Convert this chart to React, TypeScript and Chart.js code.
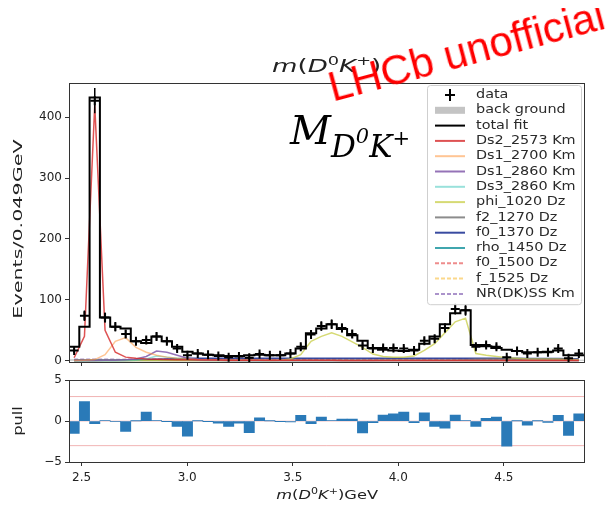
import React, { useEffect, useRef } from "react";
import { Chart, registerables } from "chart.js";

Chart.register(...registerables);
Chart.defaults.font.family = "'DejaVu Sans', sans-serif";

// ---------------- data ----------------
const X_RANGE = [2.44, 4.88];
const BIN_EDGES = [
  2.44, 2.4888, 2.5376, 2.5864, 2.6352, 2.684, 2.7328, 2.7816, 2.8304, 2.8792,
  2.928, 2.9768, 3.0256, 3.0744, 3.1232, 3.172, 3.2208, 3.2696, 3.3184, 3.3672,
  3.416, 3.4648, 3.5136, 3.5624, 3.6112, 3.66, 3.7088, 3.7576, 3.8064, 3.8552,
  3.904, 3.9528, 4.0016, 4.0504, 4.0992, 4.148, 4.1968, 4.2456, 4.2944, 4.3432,
  4.392, 4.4408, 4.4896, 4.5384, 4.5872, 4.636, 4.6848, 4.7336, 4.7824, 4.8312,
  4.88,
];
const X_TICKS = [2.5, 3.0, 3.5, 4.0, 4.5];
const Y_TICKS = [0, 100, 200, 300, 400];
const Y_RANGE = [-2, 456];
const PULL_TICKS = [-5, 0, 5];
const PULL_RANGE = [-5, 5];
const PULL_LIMITS = [3, 0, -3];

const DATA = [
  17, 74, 427, 71, 56, 44, 32, 34, 40, 32,
  20, 9, 12, 10, 8, 6, 7, 5, 11, 9,
  9, 12, 23, 43, 57, 60, 54, 44, 25, 20,
  21, 21, 20, 17, 33, 36, 54, 85, 83, 23,
  26, 23, 6, 16, 12, 14, 14, 20, 4, 12,
];
const TOTAL_FIT = [
  23, 56, 432, 71, 56, 53, 32, 29, 40, 32,
  23, 15, 12, 10, 9, 8, 8, 9, 10, 9,
  9, 12, 20, 45, 53, 60, 52, 42, 33, 21,
  18, 17, 16, 18, 28, 40, 60, 78, 83, 26,
  24, 21, 18, 16, 14, 14, 15, 17, 9, 9,
];
const BACKGROUND = [
  2.5, 2.5, 2.4, 2.4, 2.3, 2.3, 2.2, 2.2, 2.1, 2.1,
  2, 2, 2, 1.9, 1.9, 1.9, 1.8, 1.8, 1.8, 1.8,
  1.7, 1.7, 1.7, 1.7, 1.7, 1.7, 1.7, 1.7, 1.7, 1.7,
  1.6, 1.6, 1.6, 1.6, 1.6, 1.6, 1.6, 1.6, 1.6, 1.6,
  1.5, 1.5, 1.5, 1.5, 1.5, 1.5, 1.5, 1.5, 1.5, 1.5,
];
const DS2_2573 = [
  5, 40, 420, 50, 14, 6, 4, 3, 2.5, 2,
  1.8, 1.5, 1.4, 1.2, 1.1, 1, 1, 0.9, 0.9, 0.8,
  0.8, 0.8, 0.7, 0.7, 0.7, 0.7, 0.6, 0.6, 0.6, 0.6,
  0.6, 0.6, 0.5, 0.5, 0.5, 0.5, 0.5, 0.5, 0.5, 0.5,
  0.5, 0.5, 0.5, 0.5, 0.5, 0.5, 0.5, 0.5, 0.5, 0.5,
];
const DS1_2700 = [
  0.5, 1, 2, 10, 32, 38, 22, 14, 9, 6,
  4, 3, 2, 1.5, 1.2, 1, 0.9, 0.8, 0.7, 0.6,
  0.6, 0.5, 0.5, 0.5, 0.5, 0.4, 0.4, 0.4, 0.4, 0.4,
  0.4, 0.4, 0.3, 0.3, 0.3, 0.3, 0.3, 0.3, 0.3, 0.3,
  0.3, 0.3, 0.3, 0.3, 0.3, 0.3, 0.3, 0.3, 0.3, 0.3,
];
const DS1_2860 = [
  0.3, 0.3, 0.5, 0.7, 1, 1.5, 3, 7, 16, 14,
  9, 4, 2, 1.2, 0.8, 0.6, 0.5, 0.5, 0.4, 0.4,
  0.4, 0.4, 0.3, 0.3, 0.3, 0.3, 0.3, 0.3, 0.3, 0.3,
  0.3, 0.3, 0.3, 0.3, 0.3, 0.3, 0.3, 0.3, 0.3, 0.3,
  0.3, 0.3, 0.3, 0.3, 0.3, 0.3, 0.3, 0.3, 0.3, 0.3,
];
const DS3_2860 = [
  0.2, 0.2, 0.3, 0.4, 0.5, 0.7, 1, 3, 8, 6,
  4, 2, 1, 0.6, 0.4, 0.3, 0.3, 0.3, 0.2, 0.2,
  0.2, 0.2, 0.2, 0.2, 0.2, 0.2, 0.2, 0.2, 0.2, 0.2,
  0.2, 0.2, 0.2, 0.2, 0.2, 0.2, 0.2, 0.2, 0.2, 0.2,
  0.2, 0.2, 0.2, 0.2, 0.2, 0.2, 0.2, 0.2, 0.2, 0.2,
];
const PHI_1020 = [
  0.3, 0.3, 0.3, 0.3, 0.3, 0.3, 0.3, 0.3, 0.3, 0.3,
  0.3, 0.3, 0.3, 0.3, 0.3, 0.3, 0.3, 0.3, 0.3, 0.3,
  1, 3, 10, 32, 40, 46, 40, 31, 22, 11,
  7, 6, 6, 8, 17, 28, 46, 64, 70, 12,
  9, 7, 5, 4, 3, 3, 3, 3, 2, 2,
];
const F2_1270 = [
  0.5, 0.5, 0.5, 0.5, 0.5, 0.5, 0.5, 0.5, 0.5, 0.5,
  0.5, 0.5, 0.5, 0.5, 0.5, 0.5, 0.5, 0.5, 0.5, 0.5,
  0.6, 0.6, 0.6, 0.6, 0.6, 0.6, 0.6, 0.6, 0.6, 0.6,
  0.8, 0.8, 0.8, 0.8, 0.8, 0.8, 0.8, 0.8, 1.5, 2.5,
  3, 3, 2.8, 2.5, 2.2, 2, 1.8, 1.5, 1.3, 1.2,
];
const F0_1370 = [
  1, 1, 1, 1, 1, 1.2, 1.5, 2, 2.5, 3,
  3.5, 4, 4, 4, 4, 4, 4, 4, 4, 4,
  4, 4, 4, 4, 4, 4, 4, 4, 4, 4,
  4, 4, 4, 4, 4, 4, 4, 4, 4, 4,
  4, 4, 4, 4, 3.8, 3.8, 3.6, 3.6, 3.5, 3.5,
];
const RHO_1450 = [
  0.5, 0.5, 0.5, 0.6, 0.6, 0.6, 0.7, 0.7, 0.7, 0.8,
  0.8, 0.8, 0.8, 0.8, 0.8, 0.8, 0.8, 0.8, 0.8, 0.8,
  0.8, 0.8, 0.8, 0.8, 0.8, 0.8, 0.8, 0.8, 0.8, 0.8,
  0.8, 0.8, 0.8, 0.8, 0.8, 0.8, 0.8, 0.8, 0.8, 0.8,
  0.8, 0.8, 0.8, 0.8, 0.8, 0.8, 0.7, 0.7, 0.7, 0.7,
];
const F0_1500 = [
  1.5, 1.5, 1.6, 1.7, 1.8, 1.9, 2, 2.1, 2.2, 2.3,
  2.4, 2.5, 2.5, 2.5, 2.5, 2.5, 2.5, 2.5, 2.5, 2.5,
  2.5, 2.5, 2.5, 2.5, 2.5, 2.5, 2.5, 2.5, 2.5, 2.5,
  2.5, 2.5, 2.5, 2.5, 2.5, 2.5, 2.5, 2.5, 2.5, 2.5,
  2.4, 2.4, 2.4, 2.3, 2.3, 2.3, 2.2, 2.2, 2.2, 2.1,
];
const F_1525 = [
  0.6, 0.6, 0.7, 0.7, 0.8, 0.8, 0.9, 0.9, 1, 1,
  1, 1, 1, 1, 1, 1, 1, 1, 1, 1,
  1, 1, 1, 1, 1, 1, 1, 1, 1, 1,
  1, 1, 1, 1, 1, 1, 1, 1, 1, 1,
  1, 1, 1, 1, 1, 1, 1, 1, 1, 1,
];
const NR_DK_SS = [
  2.5, 2.5, 2.4, 2.4, 2.3, 2.3, 2.2, 2.2, 2.1, 2.1,
  2, 2, 1.9, 1.9, 1.8, 1.8, 1.8, 1.7, 1.7, 1.7,
  1.6, 1.6, 1.6, 1.5, 1.5, 1.5, 1.5, 1.4, 1.4, 1.4,
  1.4, 1.3, 1.3, 1.3, 1.3, 1.2, 1.2, 1.2, 1.2, 1.2,
  1.1, 1.1, 1.1, 1.1, 1.1, 1, 1, 1, 1, 1,
];
const PULL = [
  -1.5, 2.4, -0.3, 0.05, -0.05, -1.25, 0.02, 1.1, 0.05, -0.03,
  -0.65, -1.85, 0.03, -0.02, -0.25, -0.65, -0.25, -1.4, 0.4, 0.02,
  -0.02, -0.1, 0.7, -0.3, 0.5, 0.05, 0.25, 0.25, -1.45, -0.2,
  0.75, 0.9, 1.1, -0.2, 1.0, -0.65, -0.85, 0.75, 0.05, -0.65,
  0.35, 0.5, -3.05, 0.03, -0.5, 0.02, -0.15, 0.7, -1.75, 0.9,
];

const COMPONENTS = [
  { label: "Ds2_2573 Km", values: DS2_2573, color: "rgba(214,39,40,0.8)", dash: [] as number[] },
  { label: "Ds1_2700 Km", values: DS1_2700, color: "rgba(255,150,60,0.55)", dash: [] as number[] },
  { label: "Ds1_2860 Km", values: DS1_2860, color: "rgba(130,90,170,0.85)", dash: [] as number[] },
  { label: "Ds3_2860 Km", values: DS3_2860, color: "rgba(70,200,190,0.55)", dash: [] as number[] },
  { label: "phi_1020 Dz", values: PHI_1020, color: "rgba(200,205,70,0.75)", dash: [] as number[] },
  { label: "f2_1270 Dz", values: F2_1270, color: "rgba(120,120,120,0.85)", dash: [] as number[] },
  { label: "f0_1370 Dz", values: F0_1370, color: "rgba(35,55,150,0.9)", dash: [] as number[] },
  { label: "rho_1450 Dz", values: RHO_1450, color: "rgba(30,150,160,0.85)", dash: [] as number[] },
  { label: "f0_1500 Dz", values: F0_1500, color: "rgba(235,120,120,0.85)", dash: [4, 2] },
  { label: "f_1525 Dz", values: F_1525, color: "rgba(250,200,90,0.7)", dash: [4, 2] },
  { label: "NR(DK)SS Km", values: NR_DK_SS, color: "rgba(150,120,190,0.8)", dash: [4, 2] },
];

// ---------------- helpers ----------------
const CENTERS = BIN_EDGES.slice(0, -1).map((e, i) => (e + BIN_EDGES[i + 1]) / 2);
const stepPoints = (vals: number[]) =>
  BIN_EDGES.map((e, i) => ({ x: e, y: vals[Math.min(i, vals.length - 1)] }));
const centerPoints = (vals: number[]) => CENTERS.map((c, i) => ({ x: c, y: vals[i] }));
const errorPoints = () => {
  const pts: { x: number; y: number | null }[] = [];
  DATA.forEach((d, i) => {
    const e = Math.sqrt(d);
    pts.push({ x: CENTERS[i], y: d - e });
    pts.push({ x: CENTERS[i], y: d + e });
    pts.push({ x: CENTERS[i], y: null });
  });
  return pts;
};

const AXIS_COLOR = "#333";
const LEFT_AXIS_W = 61;

const framePlugin = {
  id: "frame",
  afterDraw(chart: any) {
    const { ctx, chartArea: a } = chart;
    ctx.save();
    ctx.strokeStyle = AXIS_COLOR;
    ctx.lineWidth = 1;
    ctx.strokeRect(Math.round(a.left) + 0.5, Math.round(a.top) + 0.5, Math.round(a.right - a.left), Math.round(a.bottom - a.top));
    ctx.restore();
  },
};

type LegendItem = { label: string; kind: "data" | "patch" | "line"; color: string; dash?: number[] };
const LEGEND_ITEMS: LegendItem[] = [
  { label: "data", kind: "data", color: "#000" },
  { label: "back ground", kind: "patch", color: "#c4c4c4" },
  { label: "total fit", kind: "line", color: "#000" },
  ...COMPONENTS.map((c) => ({ label: c.label, kind: "line" as const, color: c.color, dash: c.dash })),
];

const insideLegend = {
  id: "insideLegend",
  afterDraw(chart: any) {
    const { ctx, chartArea: a } = chart;
    const rowH = 15.3;
    const boxW = 154;
    const boxL = a.right - boxW - 3;
    const boxT = a.top + 2;
    const boxH = rowH * LEGEND_ITEMS.length + 5;
    ctx.save();
    ctx.beginPath();
    ctx.roundRect(boxL + 0.5, boxT + 0.5, boxW, boxH, 3);
    ctx.fillStyle = "rgba(255,255,255,0.85)";
    ctx.fill();
    ctx.strokeStyle = "#cfcfcf";
    ctx.lineWidth = 1;
    ctx.stroke();
    ctx.font = "12px 'DejaVu Sans'";
    ctx.textBaseline = "middle";
    ctx.fillStyle = "#2a2a2a";
    LEGEND_ITEMS.forEach((it, k) => {
      const y = boxT + 10 + k * rowH;
      const hx0 = boxL + 8;
      const hx1 = hx0 + 30;
      ctx.save();
      if (it.kind === "data") {
        const cx = (hx0 + hx1) / 2;
        ctx.strokeStyle = "#000";
        ctx.lineWidth = 2;
        ctx.beginPath();
        ctx.moveTo(cx - 5, y);
        ctx.lineTo(cx + 5, y);
        ctx.moveTo(cx, y - 6);
        ctx.lineTo(cx, y + 6);
        ctx.stroke();
      } else if (it.kind === "patch") {
        ctx.fillStyle = it.color;
        ctx.fillRect(hx0, y - 3.5, hx1 - hx0, 7);
      } else {
        ctx.strokeStyle = it.color;
        ctx.lineWidth = 2;
        ctx.setLineDash(it.dash || []);
        ctx.beginPath();
        ctx.moveTo(hx0, y);
        ctx.lineTo(hx1, y);
        ctx.stroke();
      }
      ctx.restore();
      ctx.save();
      ctx.translate(boxL + 49, y);
      ctx.scale(1.2, 1);
      ctx.fillText(it.label, 0, 0);
      ctx.restore();
    });
    ctx.restore();
  },
};

const tickGrid = { drawOnChartArea: false, drawTicks: true, tickLength: 4, color: AXIS_COLOR };
const tickFont = { size: 12 };
const minusFmt = (v: number) => (v < 0 ? "\u2212" + Math.abs(v) : String(v));

export default function App() {
  const mainRef = useRef<HTMLCanvasElement>(null);
  const pullRef = useRef<HTMLCanvasElement>(null);

  useEffect(() => {
    const main = new Chart(mainRef.current as HTMLCanvasElement, {
      type: "line",
      data: {
        datasets: [
          {
            type: "scatter",
            label: "data",
            data: centerPoints(DATA),
            pointStyle: "cross",
            pointRadius: 4.5,
            pointBorderWidth: 2,
            borderColor: "#000",
            backgroundColor: "#000",
            showLine: false,
            order: 0,
          } as any,
          {
            label: "data errors",
            data: errorPoints(),
            borderColor: "#000",
            borderWidth: 1.5,
            pointRadius: 0,
            spanGaps: false,
            order: 0,
          } as any,
          {
            label: "total fit",
            data: stepPoints(TOTAL_FIT),
            stepped: "before",
            borderColor: "#000",
            borderWidth: 2,
            pointRadius: 0,
            order: 1,
          } as any,
          ...COMPONENTS.map((c, k) => ({
            label: c.label,
            data: centerPoints(c.values),
            borderColor: c.color,
            borderDash: c.dash,
            borderWidth: 1.5,
            pointRadius: 0,
            order: 2 + k,
          })),
          {
            label: "back ground",
            data: stepPoints(BACKGROUND),
            stepped: "before",
            borderColor: "rgba(0,0,0,0)",
            borderWidth: 0,
            backgroundColor: "#c4c4c4",
            fill: "origin",
            pointRadius: 0,
            order: 50,
          } as any,
        ],
      },
      options: {
        animation: false,
        responsive: false,
        maintainAspectRatio: false,
        devicePixelRatio: 1,
        layout: { padding: { left: 0, right: 24, top: 75, bottom: 7 } },
        plugins: { legend: { display: false }, tooltip: { enabled: false }, title: { display: false } },
        scales: {
          x: {
            type: "linear",
            min: X_RANGE[0],
            max: X_RANGE[1],
            afterBuildTicks: (s: any) => {
              s.ticks = X_TICKS.map((v) => ({ value: v }));
            },
            ticks: { display: false },
            grid: tickGrid,
            border: { color: AXIS_COLOR },
            afterFit: (s: any) => {
              s.height = 5;
            },
          },
          y: {
            type: "linear",
            min: Y_RANGE[0],
            max: Y_RANGE[1],
            afterBuildTicks: (s: any) => {
              s.ticks = Y_TICKS.map((v) => ({ value: v }));
            },
            ticks: { font: tickFont, color: "#222", padding: 3 },
            grid: tickGrid,
            border: { color: AXIS_COLOR },
            afterFit: (s: any) => {
              s.width = LEFT_AXIS_W;
            },
          },
        },
      } as any,
      plugins: [framePlugin, insideLegend],
    });

    const pull = new Chart(pullRef.current as HTMLCanvasElement, {
      type: "bar",
      data: {
        datasets: [
          {
            type: "bar",
            label: "pull",
            data: centerPoints(PULL),
            backgroundColor: "#2a7ab8",
            borderWidth: 0,
            barPercentage: 1,
            categoryPercentage: 1,
            order: 0,
          } as any,
          ...PULL_LIMITS.map((v) => ({
            type: "line",
            label: "limit " + v,
            data: [
              { x: X_RANGE[0], y: v },
              { x: X_RANGE[1], y: v },
            ],
            borderColor: v === 0 ? "rgba(214,39,40,0.25)" : "rgba(214,39,40,0.35)",
            borderWidth: 1,
            pointRadius: 0,
            order: 1,
          })) as any,
        ],
      },
      options: {
        animation: false,
        responsive: false,
        maintainAspectRatio: false,
        devicePixelRatio: 1,
        layout: { padding: { left: 0, right: 24, top: 9, bottom: 0 } },
        plugins: { legend: { display: false }, tooltip: { enabled: false } },
        scales: {
          x: {
            type: "linear",
            min: X_RANGE[0],
            max: X_RANGE[1],
            offset: false,
            afterBuildTicks: (s: any) => {
              s.ticks = X_TICKS.map((v) => ({ value: v }));
            },
            ticks: { font: tickFont, color: "#222", padding: 5, callback: (v: any) => Number(v).toFixed(1) },
            grid: { ...tickGrid, offset: false },
            border: { color: AXIS_COLOR },
            afterFit: (s: any) => {
              s.height = 42;
            },
          },
          y: {
            type: "linear",
            min: PULL_RANGE[0],
            max: PULL_RANGE[1],
            afterBuildTicks: (s: any) => {
              s.ticks = PULL_TICKS.map((v) => ({ value: v }));
            },
            ticks: { font: tickFont, color: "#222", padding: 3, callback: (v: any) => minusFmt(Number(v)) },
            grid: tickGrid,
            border: { color: AXIS_COLOR },
            afterFit: (s: any) => {
              s.width = LEFT_AXIS_W;
            },
          },
        },
      } as any,
      plugins: [framePlugin],
    });

    return () => {
      main.destroy();
      pull.destroy();
    };
  }, []);

  const supStyle: React.CSSProperties = { fontSize: "0.68em", verticalAlign: "0.55em", lineHeight: 0 };

  return (
    <div style={{ position: "relative", width: 600, height: 496, overflow: "hidden", fontFamily: "'DejaVu Sans', sans-serif", color: "#222" }}>
      <canvas ref={mainRef} width={600} height={366} style={{ position: "absolute", left: 0, top: 0, width: 600, height: 366 }} />
      <canvas ref={pullRef} width={600} height={134} style={{ position: "absolute", left: 0, top: 362, width: 600, height: 134 }} />

      {/* title */}
      <div style={{ position: "absolute", left: 219, width: 200, top: 47, textAlign: "center", fontSize: 18, lineHeight: "22px", whiteSpace: "nowrap" }}>
        <span style={{ display: "inline-block", transform: "scaleX(1.45)" }}>
          <i>m</i>(<i>D</i><span style={supStyle}>0</span><i>K</i><span style={supStyle}>+</span>)
        </span>
      </div>

      {/* big mass label */}
      <div style={{ position: "absolute", left: 282, top: 97, fontFamily: "'DejaVu Serif', serif", fontStyle: "italic", fontSize: 40, lineHeight: "50px", color: "#000", whiteSpace: "nowrap" }}>
        M
        <span style={{ fontSize: 31, position: "relative", top: 13 }}>
          D<span style={{ fontSize: 21, position: "relative", top: -14 }}>0</span>K<span style={{ fontSize: 21, position: "relative", top: -12 }}>+</span>
        </span>
      </div>

      {/* y axis titles */}
      <div style={{ position: "absolute", left: 10, top: 221, transform: "translate(-50%, -50%) rotate(-90deg) scaleX(1.8)", fontSize: 11.5, whiteSpace: "nowrap" }}>
        Events/0.049GeV
      </div>
      <div style={{ position: "absolute", left: 10, top: 413, transform: "translate(-50%, -50%) rotate(-90deg) scaleX(1.35)", fontSize: 12, whiteSpace: "nowrap" }}>
        pull
      </div>

      {/* x axis title */}
      <div style={{ position: "absolute", left: 219, width: 200, top: 479, textAlign: "center", fontSize: 12.5, lineHeight: "15px", whiteSpace: "nowrap" }}>
        <span style={{ display: "inline-block", transform: "scaleX(1.3)" }}>
          <i>m</i>(<i>D</i><span style={supStyle}>0</span><i>K</i><span style={supStyle}>+</span>)GeV
        </span>
      </div>

      {/* watermark */}
      <div style={{ position: "absolute", left: 315, top: 57, transform: "rotate(-15deg)", transformOrigin: "0 0", color: "#ff0000", fontFamily: "'Liberation Sans', sans-serif", fontSize: 42, lineHeight: "48px", whiteSpace: "nowrap" }}>
        LHCb unofficial
      </div>
    </div>
  );
}
